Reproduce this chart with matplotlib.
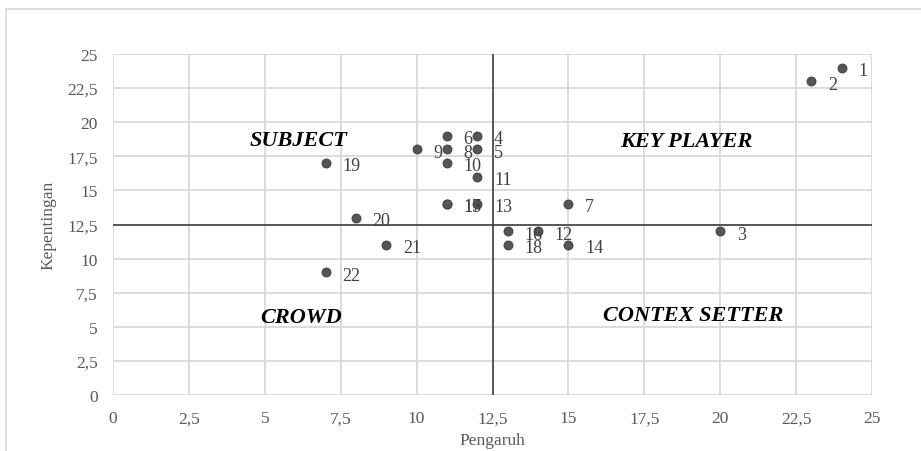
import matplotlib
matplotlib.use("Agg")
import matplotlib.pyplot as plt
from matplotlib.patches import Rectangle
from matplotlib.ticker import FuncFormatter

# stakeholder data: (pengaruh, kepentingan)
labels = ["1", "2", "3", "4", "5", "6", "7", "8", "9", "10", "11",
          "12", "13", "14", "15", "16", "17", "18", "19", "20", "21", "22"]
pengaruh = [24, 23, 20, 12, 12, 11, 15, 11, 10, 11, 12,
            14, 12, 15, 11, 13, 11, 13, 7, 8, 9, 7]
kepentingan = [24, 23, 12, 19, 18, 19, 14, 18, 18, 17, 16,
               12, 14, 11, 14, 12, 14, 11, 17, 13, 11, 9]

quadrants = ["SUBJECT", "KEY PLAYER", "CROWD", "CONTEX SETTER"]
quad_x = [6.1, 18.9, 6.2, 19.1]
quad_y = [18.7, 18.6, 5.7, 5.9]

ticks = [0, 2.5, 5, 7.5, 10, 12.5, 15, 17.5, 20, 22.5, 25]

plt.rcParams["font.family"] = ["Liberation Serif", "DejaVu Serif"]

fig = plt.figure(figsize=(9.21, 4.52), dpi=100)
ax = fig.add_axes([113 / 921, 1 - 396 / 452, 759 / 921, 341 / 452])

# outer chart border
fig.patches.append(Rectangle((6 / 921, -0.1), 1.0, 1 - 10 / 452 + 0.1,
                             transform=fig.transFigure, fill=False,
                             edgecolor="#d9d9d9", linewidth=1.2))

ax.set_xlim(0, 25)
ax.set_ylim(0, 25)
ax.set_xticks(ticks)
ax.set_yticks(ticks)
fmt = FuncFormatter(lambda v, p: f"{v:g}".replace(".", ","))
ax.xaxis.set_major_formatter(fmt)
ax.yaxis.set_major_formatter(fmt)
ax.grid(True, color="#d9d9d9", linewidth=1.3)
ax.set_axisbelow(True)
for s in ax.spines.values():
    s.set_visible(False)
ax.tick_params(length=0, labelsize=12.5, colors="#595959")
ax.tick_params(axis="y", pad=11)
ax.tick_params(axis="x", pad=11)

ax.axvline(12.5, color="#404040", linewidth=1.2, zorder=2)
ax.axhline(12.5, color="#404040", linewidth=1.2, zorder=2)

ax.scatter(pengaruh, kepentingan, s=42, color="#555555",
           edgecolors="#3a3a3a", linewidths=0.6, zorder=3)
for lab, x, y in zip(labels, pengaruh, kepentingan):
    ax.annotate(lab, (x, y), xytext=(12, -2), textcoords="offset points",
                ha="left", va="center", fontsize=13, color="#404040")

for q, x, y in zip(quadrants, quad_x, quad_y):
    ax.text(x, y, q, ha="center", va="center", fontsize=16,
            fontweight="bold", fontstyle="italic", color="black")

ax.set_xlabel("Pengaruh", fontsize=12.5, color="#595959", labelpad=4)
ax.set_ylabel("Kepentingan", fontsize=12.5, color="#595959", labelpad=8)

fig.savefig("out.png", dpi=100)
